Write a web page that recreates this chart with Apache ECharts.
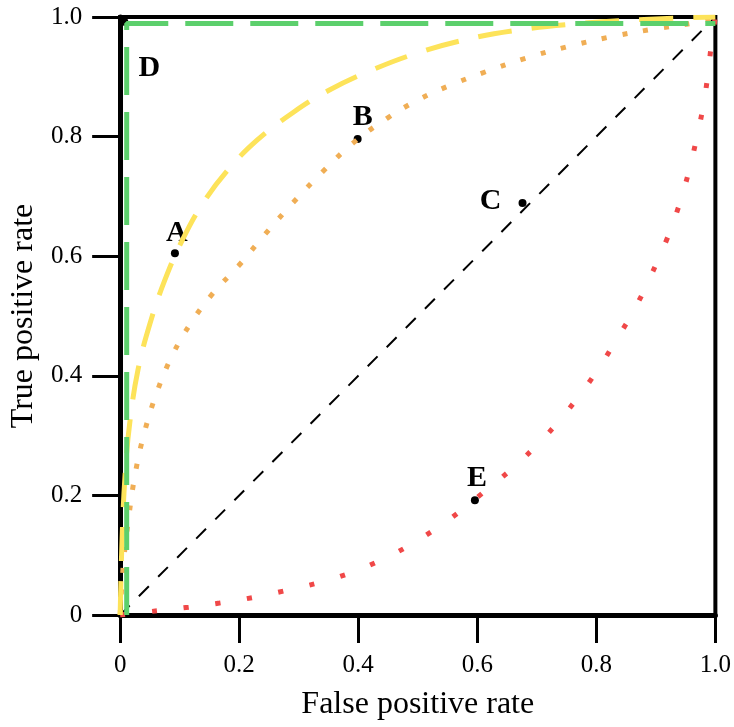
<!DOCTYPE html>
<html>
<head>
<meta charset="utf-8">
<script src="https://cdn.jsdelivr.net/npm/echarts@6/dist/echarts.min.js"></script>
<style>
  html, body { margin: 0; padding: 0; background: #fff; }
  #chart { width: 734px; height: 727px; }
</style>
</head>
<body>
<div id="chart"></div>
<script>
// values, [false positive rate, true positive rate]
var yellowCurve = [[0, 0], [0.003, 0.12], [0.008, 0.23], [0.016, 0.32], [0.03, 0.41], [0.05, 0.487],
  [0.075, 0.56], [0.105, 0.628], [0.14, 0.69], [0.18, 0.743], [0.23, 0.794], [0.29, 0.84],
  [0.35, 0.877], [0.42, 0.91], [0.5, 0.94], [0.58, 0.962], [0.66, 0.977], [0.77, 0.989],
  [0.88, 0.996], [1, 1]];
var orangeCurve = [[0, 0], [0.005, 0.08], [0.014, 0.16], [0.026, 0.24], [0.042, 0.31], [0.063, 0.376],
  [0.088, 0.435], [0.118, 0.487], [0.155, 0.537], [0.199, 0.584], [0.242, 0.635], [0.289, 0.688],
  [0.339, 0.74], [0.391, 0.789], [0.449, 0.831], [0.5, 0.861], [0.55, 0.884], [0.613, 0.908],
  [0.681, 0.931], [0.75, 0.95], [0.82, 0.966], [0.891, 0.979], [0.963, 0.99], [1, 1]];
var redCurve = [[0, 0], [0.062, 0.007], [0.115, 0.013], [0.167, 0.02], [0.222, 0.029], [0.274, 0.04],
  [0.33, 0.053], [0.38, 0.068], [0.43, 0.088], [0.48, 0.113], [0.524, 0.14], [0.568, 0.171],
  [0.609, 0.204], [0.653, 0.24], [0.693, 0.277], [0.73, 0.316], [0.763, 0.356], [0.801, 0.408],
  [0.833, 0.459], [0.865, 0.513], [0.891, 0.566], [0.918, 0.627], [0.938, 0.682], [0.955, 0.74],
  [0.968, 0.795], [0.979, 0.848], [0.987, 0.9], [0.993, 0.952], [1, 1]];
var greenCurve = [[0.011, 0], [0.011, 0.989], [1, 0.989]];
var diagonal = [[0, 0], [1, 1]];

var pointNames = ['A', 'B', 'C', 'D', 'E'];
var pointX = [0.092, 0.399, 0.676, 0.007, 0.596];
var pointY = [0.605, 0.796, 0.689, 0.992, 0.192];

var tickLabels = ['0', '0.2', '0.4', '0.6', '0.8', '1.0'];

// label placement relative to each dot
var labelOffsets = { A: [2, -20], B: [5, -22], C: [-32, -2], D: [25, 46], E: [2, -22] };

var serif = '"Liberation Serif", "DejaVu Serif", serif';

var chart = echarts.init(document.getElementById('chart'));

function axis(name, gap) {
  return {
    type: 'value',
    min: 0,
    max: 1,
    interval: 0.2,
    name: name,
    nameLocation: 'middle',
    nameGap: gap,
    nameTextStyle: { fontFamily: serif, fontSize: 32, color: '#000' },
    axisLine: { show: true, lineStyle: { color: '#000', width: 5 } },
    axisTick: { show: true, inside: false, length: 28, lineStyle: { color: '#000', width: 3 } },
    axisLabel: {
      margin: 38,
      fontFamily: serif,
      fontSize: 25,
      color: '#000',
      formatter: function (v) { return tickLabels[Math.round(v / 0.2)]; }
    },
    splitLine: { show: false }
  };
}

function curve(data, color, width, dash) {
  return {
    type: 'line',
    data: data,
    smooth: 0.4,
    showSymbol: false,
    symbol: 'none',
    silent: true,
    lineStyle: { color: color, width: width, type: dash, cap: 'butt' }
  };
}

var points = pointNames.map(function (n, i) {
  return {
    name: n,
    value: [pointX[i], pointY[i]],
    label: { offset: labelOffsets[n] }
  };
});

var option = {
  animation: false,
  backgroundColor: '#fff',
  grid: {
    left: 118, top: 17, width: 599, height: 598,
    show: true, borderColor: '#000', borderWidth: 4, backgroundColor: 'transparent'
  },
  xAxis: axis('False positive rate', 74),
  yAxis: axis('True positive rate', 74),
  series: [
    curve(diagonal, '#000', 2, [14, 13]),
    curve(redCurve, '#f04848', 5, [5, 27]),
    curve(orangeCurve, '#f0ae55', 5, [5, 16]),
    curve(yellowCurve, '#fde35a', 5, [34, 20]),
    {
      type: 'line',
      data: greenCurve,
      showSymbol: false,
      symbol: 'none',
      silent: true,
      lineStyle: { color: '#5ccf6c', width: 5, type: [48, 17], cap: 'butt' }
    },
    {
      type: 'scatter',
      data: points,
      symbol: 'circle',
      symbolSize: 8,
      silent: true,
      itemStyle: { color: '#000', opacity: 1 },
      label: {
        show: true,
        position: 'inside',
        formatter: '{b}',
        fontFamily: serif,
        fontWeight: 'bold',
        fontSize: 30,
        color: '#000',
        opacity: 1,
        textBorderWidth: 0
      }
    }
  ]
};

option && chart.setOption(option);
</script>
</body>
</html>
